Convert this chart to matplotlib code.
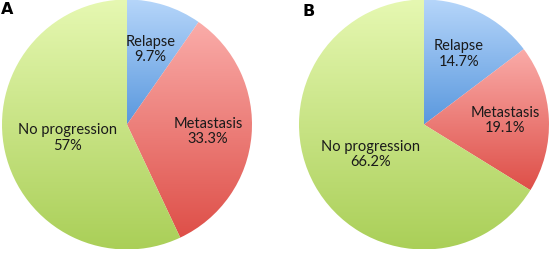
import matplotlib
matplotlib.use('Agg')
import matplotlib.pyplot as plt
import numpy as np
from matplotlib.colors import LinearSegmentedColormap

plt.rcParams['font.family'] = ['Lato', 'DejaVu Sans']

labels = ['Relapse', 'Metastasis', 'No progression']
vals_a = [9.7, 33.3, 57.0]
vals_b = [14.7, 19.1, 66.2]
pct_a = ['9.7%', '33.3%', '57%']
pct_b = ['14.7%', '19.1%', '66.2%']

# top colour, bottom colour for each slice
grad = [('#b6d6fa', '#5a98de'), ('#faaca9', '#de4f48'), ('#e6f8b2', '#aacf58')]
lab_r = [0.63, 0.65, 0.49]


def draw_pie(ax, vals, pcts):
    wedges, _ = ax.pie(vals, startangle=90, counterclock=False, radius=1,
                       wedgeprops=dict(linewidth=0))
    for w, (c1, c2), lab, p, r in zip(wedges, grad, labels, pcts, lab_r):
        w.set_facecolor('none')
        verts = w.get_path().vertices
        y0, y1 = verts[:, 1].min(), verts[:, 1].max()
        cmap = LinearSegmentedColormap.from_list('g', [c2, c1])
        g = np.linspace(0, 1, 256).reshape(-1, 1)
        im = ax.imshow(g, cmap=cmap, origin='lower', aspect='auto',
                       extent=[-1, 1, y0, y1], interpolation='bicubic')
        im.set_clip_path(w)
        mid = np.deg2rad((w.theta1 + w.theta2) / 2)
        ax.text(r * np.cos(mid), r * np.sin(mid), lab + '\n' + p,
                ha='center', va='center', fontsize=10.5, color='#1a1a1a',
                linespacing=1.15)
    ax.set_xlim(-1, 1)
    ax.set_ylim(-1, 1)
    ax.set_aspect('equal')
    ax.axis('off')


fig = plt.figure(figsize=(5.5, 2.56), dpi=100)
ax_a = fig.add_axes([2 / 550, 6.5 / 256, 250 / 550, 250 / 256])
ax_b = fig.add_axes([299 / 550, 6.5 / 256, 250 / 550, 250 / 256])
draw_pie(ax_a, vals_a, pct_a)
draw_pie(ax_b, vals_b, pct_b)

fig.text(1 / 550, 1 - 2 / 256, 'A', fontsize=11.5, fontweight='bold',
         family=['DejaVu Sans'], va='top')
fig.text(302 / 550, 1 - 4 / 256, 'B', fontsize=11.5, fontweight='bold',
         family=['DejaVu Sans'], va='top')

fig.savefig('out.png', dpi=100)
